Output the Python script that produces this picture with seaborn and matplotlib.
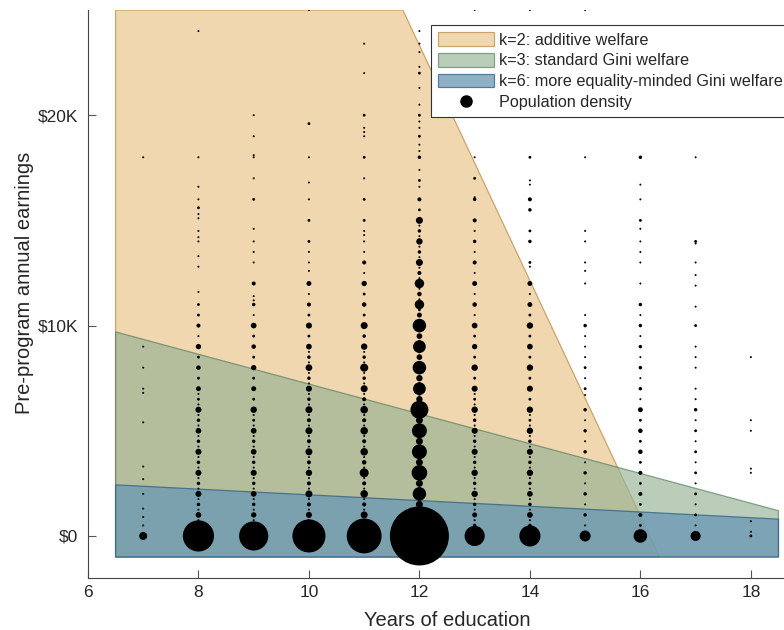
import matplotlib
matplotlib.use("Agg")
import matplotlib.pyplot as plt
from matplotlib.lines import Line2D
import pandas as pd
import seaborn as sns

# (earnings in $K, number of people) for each education level
edu_7 = [(0, 16), (0.5, 1), (0.9, 1), (1.3, 1), (2, 1), (2.7, 1), (3.3, 1), (5.4, 1),
         (6.8, 1), (7, 1), (8, 1), (9, 1), (18, 1)]
edu_8 = [(0, 240), (0.25, 1), (0.5, 3), (0.75, 1), (1, 8), (1.25, 1), (1.5, 3), (1.75, 1),
         (2, 9), (2.25, 1), (2.5, 3), (2.75, 1), (3, 9), (3.25, 1), (3.5, 3), (3.75, 1),
         (4, 9), (4.25, 1), (4.5, 3), (4.75, 1), (5, 8), (5.25, 1), (5.5, 3), (5.75, 1),
         (6, 9), (6.25, 1), (6.5, 2), (6.75, 1), (7, 6), (7.5, 2), (8, 5), (8.5, 2), (9, 7),
         (9.5, 1), (10, 4), (10.5, 2), (11, 2), (11.6, 1), (12.8, 1), (13.3, 1), (14, 1),
         (14.2, 1), (14.5, 1), (15.1, 1), (15.3, 1), (15.6, 2), (16, 1), (16.6, 1), (18, 1), (24, 1)]
edu_9 = [(0, 210), (0.25, 1), (0.5, 3), (0.75, 1), (1, 7), (1.25, 1), (1.5, 3), (1.75, 1),
         (2, 8), (2.25, 1), (2.5, 3), (2.75, 1), (3, 9), (3.25, 1), (3.5, 3), (3.75, 1),
         (4, 8), (4.25, 1), (4.5, 3), (4.75, 1), (5, 8), (5.25, 1), (5.5, 2), (5.75, 1),
         (6, 10), (6.5, 2), (7, 6), (7.5, 2), (8, 7), (8.5, 2), (9, 5), (9.5, 2), (10, 8),
         (10.5, 1), (11, 3), (11.2, 1), (11.4, 1), (12, 4), (13, 1), (13.5, 1), (14, 1),
         (14.6, 1), (16, 2), (17, 1), (18, 1), (18.1, 1), (19, 1), (20, 1)]
edu_10 = [(0, 270), (0.25, 1), (0.5, 4), (0.75, 1), (1, 9), (1.25, 1), (1.5, 4), (1.75, 1),
          (2, 12), (2.25, 1), (2.5, 4), (2.75, 1), (3, 10), (3.25, 1), (3.5, 4), (3.75, 1),
          (4, 12), (4.25, 1), (4.5, 4), (4.75, 1), (5, 12), (5.25, 1), (5.5, 4), (5.75, 1),
          (6, 12), (6.25, 1), (6.5, 3), (6.75, 1), (7, 9), (7.25, 1), (7.5, 3), (7.75, 1),
          (8, 11), (8.25, 1), (8.5, 3), (8.75, 1), (9, 8), (9.5, 2), (10, 9), (10.5, 2),
          (11, 4), (11.5, 1), (12, 6), (12.6, 1), (13, 1), (13.5, 1), (14, 2), (15, 2),
          (16, 1), (16.8, 1), (18, 1), (19.6, 2), (25, 1)]
edu_11 = [(0, 300), (0.25, 1), (0.5, 4), (0.75, 1), (1, 12), (1.25, 1), (1.5, 4), (1.75, 1),
          (2, 14), (2.25, 1), (2.5, 4), (2.75, 1), (3, 20), (3.25, 1), (3.5, 5), (3.75, 1),
          (4, 14), (4.25, 1), (4.5, 4), (4.75, 1), (5, 14), (5.25, 1), (5.5, 4), (5.75, 1),
          (6, 14), (6.25, 1), (6.5, 4), (6.75, 1), (7, 12), (7.25, 1), (7.5, 3), (7.75, 1),
          (8, 16), (8.25, 1), (8.5, 3), (8.75, 1), (9, 10), (9.5, 3), (10, 12), (10.5, 2),
          (11, 5), (11.5, 2), (12, 7), (12.5, 1), (13, 4), (13.5, 1), (14, 1), (14.3, 1),
          (14.5, 1), (15, 2), (16, 2), (17, 1), (18, 2), (19, 1), (19.2, 1), (19.4, 1),
          (20, 2), (22, 1), (23.4, 1)]
edu_12 = [(0, 860), (1.5, 12), (1.75, 3), (2, 45), (2.25, 3), (2.5, 12), (2.75, 3), (3, 60),
          (3.25, 3), (3.5, 12), (3.75, 3), (4, 55), (4.25, 3), (4.5, 12), (4.75, 3), (5, 55),
          (5.25, 3), (5.5, 12), (5.75, 3), (6, 80), (6.25, 3), (6.5, 10), (6.75, 3), (7, 40),
          (7.25, 2), (7.5, 10), (7.75, 2), (8, 45), (8.25, 2), (8.5, 8), (8.75, 2), (9, 40),
          (9.25, 2), (9.5, 8), (9.75, 2), (10, 45), (10.25, 2), (10.5, 6), (10.75, 2),
          (11, 22), (11.25, 1), (11.5, 5), (11.75, 1), (12, 22), (12.25, 1), (12.5, 4),
          (12.75, 1), (13, 12), (13.25, 1), (13.5, 3), (13.75, 1), (14, 10), (14.25, 1),
          (14.5, 3), (14.75, 1), (15, 12), (15.5, 2), (16, 4), (16.6, 1), (16.9, 2),
          (17.4, 1), (18, 3), (18.3, 1), (18.6, 1), (19, 2), (19.4, 1), (19.7, 1), (20, 2),
          (20.5, 1), (21.3, 1), (22, 2), (22.3, 1), (23, 1), (23.4, 1), (24, 1)]
edu_13 = [(0, 100), (0.5, 3), (0.75, 1), (1, 6), (1.25, 1), (1.5, 3), (1.75, 1), (2, 10),
          (2.25, 1), (2.5, 3), (2.75, 1), (3, 10), (3.25, 1), (3.5, 3), (3.75, 1), (4, 9),
          (4.25, 1), (4.5, 3), (4.75, 1), (5, 9), (5.25, 1), (5.5, 3), (5.75, 1), (6, 10),
          (6.25, 1), (6.5, 2), (6.75, 1), (7, 9), (7.5, 2), (8, 10), (8.5, 2), (9, 7),
          (9.5, 2), (10, 8), (10.5, 1), (11, 5), (11.5, 1), (12, 6), (12.5, 1), (13, 4),
          (13.5, 1), (14, 3), (14.5, 1), (15, 4), (16, 3), (16.1, 1), (17, 2), (18, 1),
          (20, 1), (25, 1)]
edu_14 = [(0, 110), (0.5, 3), (0.75, 1), (1, 8), (1.25, 1), (1.5, 3), (1.75, 1), (2, 8),
          (2.25, 1), (2.5, 3), (2.75, 1), (3, 10), (3.25, 1), (3.5, 3), (3.75, 1), (4, 9),
          (4.25, 1), (4.5, 3), (4.75, 1), (5, 10), (5.25, 1), (5.5, 2), (5.75, 1), (6, 10),
          (6.5, 2), (7, 9), (7.5, 2), (8, 10), (8.5, 2), (9, 8), (9.5, 2), (10, 10),
          (10.5, 2), (11, 6), (11.5, 1), (12, 6), (12.8, 1), (13, 2), (14, 3), (14.5, 2),
          (15.5, 3), (16, 4), (16.7, 1), (16.9, 1), (18, 2), (20, 1), (25, 1)]
edu_15 = [(0, 30), (0.5, 1), (1, 3), (1.5, 1), (2, 3), (2.5, 1), (3, 3), (3.5, 1), (4, 3),
          (4.5, 1), (5, 3), (5.5, 1), (6, 3), (6.7, 1), (7, 2), (7.5, 1), (8, 2), (8.5, 1),
          (9, 1), (9.5, 1), (10, 3), (10.5, 1), (12, 1), (12.6, 1), (13, 1), (14, 1),
          (14.5, 1), (18, 1), (20, 1), (25, 1)]
edu_16 = [(0, 45), (0.5, 2), (1, 4), (1.5, 2), (2, 4), (2.5, 2), (3, 4), (3.5, 2), (4, 5),
          (4.5, 2), (5, 5), (5.5, 2), (6, 6), (6.5, 1), (7, 3), (7.5, 1), (8, 3), (8.5, 1),
          (9, 3), (9.5, 1), (10, 3), (10.5, 1), (11, 3), (12, 1), (13, 1), (13.5, 1), (14, 1),
          (14.6, 1), (15, 2), (16, 1), (16.7, 1), (18, 3), (20, 1)]
edu_17 = [(0, 25), (0.5, 1), (1, 2), (1.5, 1), (2, 2), (2.5, 1), (3, 2), (3.5, 1), (4, 2),
          (4.5, 1), (5, 2), (5.5, 1), (6, 3), (6.5, 1), (7, 1), (8, 1), (8.5, 1), (9, 1),
          (10, 2), (10.9, 1), (11.9, 1), (12.4, 1), (13, 1), (13.9, 1), (14, 2), (18, 1), (20, 1)]
edu_18 = [(0, 2), (0.2, 1), (0.7, 1), (3.0, 1), (3.2, 1), (5.0, 1), (5.5, 1), (8.5, 1)]

# welfare regions (years of education, earnings in $)
k2_x = [6.5, 6.5, 11.7, 16.35]
k2_y = [-1000, 25000, 25000, -1000]
k3_x = [6.5, 6.5, 18.5, 18.5]
k3_y = [-1000, 9700, 1200, -1000]
k6_x = [6.5, 6.5, 18.5, 18.5]
k6_y = [-1000, 2430, 800, -1000]

columns = {7: edu_7, 8: edu_8, 9: edu_9, 10: edu_10, 11: edu_11, 12: edu_12, 13: edu_13,
           14: edu_14, 15: edu_15, 16: edu_16, 17: edu_17, 18: edu_18}
rows = []
for edu, pts in columns.items():
    for earn, n in pts:
        rows.append({"edu": edu, "earn": earn * 1000, "n": n})
df = pd.DataFrame(rows)

sns.set_style("ticks")
plt.rcParams["font.family"] = ["Liberation Sans", "DejaVu Sans"]

fig = plt.figure(figsize=(7.84, 6.30), dpi=100)
ax = fig.add_axes([0.1122, 0.0825, 0.8878, 0.9016])

ax.fill(k2_x, k2_y, facecolor="#ECC78E", edgecolor="#B8873F", alpha=0.7, lw=0.9,
        zorder=1, label="k=2: additive welfare")
ax.fill(k3_x, k3_y, facecolor="#94B294", edgecolor="#4F7A5A", alpha=0.65, lw=0.9,
        zorder=1.1, label="k=3: standard Gini welfare")
ax.fill(k6_x, k6_y, facecolor="#6997B5", edgecolor="#2F5F80", alpha=0.75, lw=0.9,
        zorder=1.2, label="k=6: more equality-minded Gini welfare")

area_per_person = 2.1
nmax = df["n"].max()
sns.scatterplot(data=df, x="edu", y="earn", size="n", sizes=(0, nmax * area_per_person),
                size_norm=(0, nmax), color="black", linewidth=0, legend=False,
                ax=ax, zorder=3)

ax.set_xlim(6, 18.6)
ax.set_ylim(-2000, 25000)
ax.set_xticks([6, 8, 10, 12, 14, 16, 18])
ax.set_yticks([0, 10000, 20000])
ax.set_yticklabels(["$0", "$10K", "$20K"])
ax.tick_params(direction="in", length=6, width=0.8, color="#555555",
               labelsize=12.5, labelcolor="#262626")
ax.tick_params(axis="x", pad=5)
ax.tick_params(axis="y", pad=7)
sns.despine(ax=ax)
for side in ["left", "bottom"]:
    ax.spines[side].set_color("#444444")
    ax.spines[side].set_linewidth(0.8)

ax.set_xlabel("Years of education", fontsize=14.5, color="#262626")
ax.set_ylabel("Pre-program annual earnings", fontsize=14.5, color="#262626")
ax.xaxis.set_label_coords(0.516, -0.058)
ax.yaxis.set_label_coords(-0.078, 0.519)

handles, labels = ax.get_legend_handles_labels()
handles.append(Line2D([], [], marker="o", color="black", linestyle="none", markersize=8))
labels.append("Population density")
leg = ax.legend(handles, labels, loc="upper left", bbox_to_anchor=(0.4928, 0.9736),
                borderaxespad=0, fontsize=11.7, frameon=True, fancybox=False,
                framealpha=1, edgecolor="#333333", handlelength=3.4, handleheight=0.9,
                handletextpad=0.35, labelspacing=0.33, borderpad=0.45)
leg.get_frame().set_linewidth(0.8)
leg.set_zorder(5)

fig.savefig("out.png", dpi=100)
